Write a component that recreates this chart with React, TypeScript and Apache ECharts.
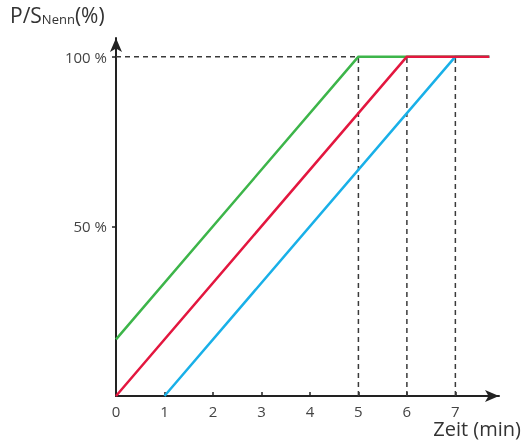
import React, { useEffect, useRef } from "react";
import * as echarts from "echarts";

const xTickLabels = [0, 1, 2, 3, 4, 5, 6, 7];
const yTickLabels = [50, 100];
const greenSeries: [number, number][] = [[0, 16.7], [5, 100], [7.7, 100]];
const redSeries: [number, number][] = [[0, 0], [6, 100], [7.7, 100]];
const blueSeries: [number, number][] = [[1, 0], [7, 100], [7.7, 100]];
const guideX = [5, 6, 7];
const guideLevel = 100;

const FONT = "'Open Sans', 'Noto Sans', sans-serif";

export default function App() {
  const ref = useRef<HTMLDivElement>(null);
  useEffect(() => {
    if (!ref.current) return;
    const chart = echarts.init(ref.current, undefined, { renderer: "svg" });
    const dash = { color: "#3a3a3a", width: 1.5, type: [5, 4] as any };
    const guides: any[] = [
      {
        type: "line",
        data: [[0, guideLevel], [guideX[0], guideLevel]],
        symbol: "none",
        lineStyle: dash,
        z: 1,
      },
      ...guideX.map((g) => ({
        type: "line",
        data: [[g, 0], [g, guideLevel]],
        symbol: "none",
        lineStyle: dash,
        z: 1,
      })),
    ];
    chart.setOption({
      animation: false,
      grid: { left: 116, right: 33, top: 38, bottom: 46, containLabel: false },
      xAxis: {
        type: "value",
        min: 0,
        max: 7.9,
        interval: 1,
        splitLine: { show: false },
        axisLine: {
          show: true,
          symbol: ["none", "arrow"],
          symbolSize: [9, 14],
          lineStyle: { color: "#222", width: 2 },
        },
        axisTick: {
          show: true,
          inside: true,
          length: 4,
          customValues: [1, 2, 3, 4, 5, 6, 7],
          lineStyle: { color: "#222", width: 1.5 },
        },
        axisLabel: {
          customValues: xTickLabels,
          color: "#444",
          fontFamily: FONT,
          fontSize: 15,
          lineHeight: 14,
          margin: 8,
        },
      },
      yAxis: {
        type: "value",
        min: 0,
        max: 105.5,
        interval: 50,
        splitLine: { show: false },
        axisLine: {
          show: true,
          symbol: ["none", "arrow"],
          symbolSize: [9, 14],
          lineStyle: { color: "#222", width: 2 },
        },
        axisTick: {
          show: true,
          length: 4,
          customValues: yTickLabels,
          lineStyle: { color: "#222", width: 1.5 },
        },
        axisLabel: {
          customValues: yTickLabels,
          formatter: (v: number) => `${v} %`,
          color: "#444",
          fontFamily: FONT,
          fontSize: 15,
          margin: 9,
        },
      },
      graphic: [
        {
          type: "text",
          left: 10,
          top: 4,
          style: {
            text: "{a|P/S}{b|Nenn}{a|(%)}",
            rich: {
              a: { fontFamily: FONT, fontSize: 21, fill: "#333", verticalAlign: "bottom" },
              b: { fontFamily: FONT, fontSize: 13, fill: "#333", padding: [14, 0, 0, 0], verticalAlign: "bottom" },
            },
          },
        },
        {
          type: "text",
          right: 11,
          top: 418,
          style: {
            text: "Zeit (min)",
            fontFamily: FONT,
            fontSize: 20,
            lineHeight: 20,
            fill: "#333",
          },
        },
      ],
      series: [
        ...guides,
        {
          type: "line",
          data: blueSeries,
          symbol: "none",
          lineStyle: { color: "#19b0e8", width: 2.5 },
          z: 3,
        },
        {
          type: "line",
          data: greenSeries,
          symbol: "none",
          lineStyle: { color: "#3db54a", width: 2.5 },
          z: 3,
        },
        {
          type: "line",
          data: redSeries,
          symbol: "none",
          lineStyle: { color: "#e3173f", width: 2.5 },
          z: 3,
        },
      ],
    });
    return () => chart.dispose();
  }, []);
  return (
    <div
      ref={ref}
      style={{ position: "fixed", left: 0, top: 0, width: 532, height: 442 }}
    />
  );
}
